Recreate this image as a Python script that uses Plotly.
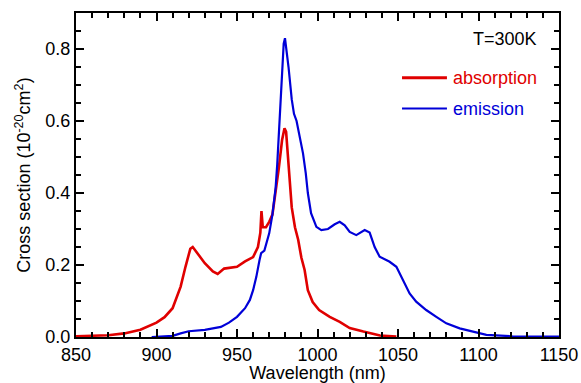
import plotly.graph_objects as go

abs_wl = [850, 860, 870, 880, 890, 900, 905, 910, 915, 918, 921, 922.5, 925, 930, 935, 938, 942, 946, 950, 955, 960, 963,
          964.5, 965.2, 966, 968, 970, 972, 974, 976, 978, 979.5, 980.5, 981.5, 982.5, 984, 986, 988, 990, 992, 994,
          997, 1001, 1007.6, 1013.8, 1020, 1028.5, 1038.8, 1049]
abs_val = [0.002, 0.003, 0.005, 0.01, 0.02, 0.04, 0.055, 0.08, 0.14, 0.195, 0.245, 0.25, 0.235, 0.205, 0.182, 0.175, 0.19, 0.192, 0.195, 0.21, 0.222, 0.25,
           0.29, 0.35, 0.305, 0.305, 0.32, 0.34, 0.4, 0.47, 0.547, 0.58, 0.57, 0.51, 0.43, 0.36, 0.305, 0.27, 0.22, 0.186, 0.13,
           0.097, 0.075, 0.056, 0.042, 0.025, 0.015, 0.004, 0.001]

em_wl = [897, 905, 910, 915, 920, 930, 940, 945, 950, 955, 958, 960, 962, 964, 965, 967, 970, 972, 974, 975, 976, 977, 978,
         979, 979.8, 981, 982, 984, 985.4, 987, 989, 991, 992.7, 994, 996, 999.3, 1002.4, 1006.5, 1010.7, 1013.8, 1016.9,
         1020, 1024.1, 1029.3, 1032.4, 1035.5, 1038.6, 1044.8, 1049, 1053, 1057.2, 1061.3, 1067.5, 1073.8, 1080, 1088.3,
         1096.6, 1104.9, 1121, 1150]
em_val = [0.0, 0.001, 0.003, 0.01, 0.016, 0.02, 0.028, 0.04, 0.056, 0.08, 0.103, 0.13, 0.167, 0.214, 0.233, 0.24, 0.288, 0.34, 0.415, 0.48, 0.566, 0.66, 0.75,
          0.815, 0.83, 0.79, 0.75, 0.66, 0.62, 0.6, 0.556, 0.51, 0.455, 0.4, 0.344, 0.306, 0.297, 0.3, 0.313, 0.32, 0.31,
          0.292, 0.283, 0.297, 0.29, 0.25, 0.223, 0.209, 0.195, 0.158, 0.121, 0.098, 0.075, 0.056, 0.038, 0.024,
          0.014, 0.006, 0.002, 0.001]

x_range = [850, 1150]
y_range = [0, 0.9]
x_major = [850, 900, 950, 1000, 1050, 1100, 1150]
y_major = [0.0, 0.2, 0.4, 0.6, 0.8]

RED = "#e00000"
BLUE = "#0000d8"
INK = "#000000"
FONT = "Liberation Sans"

fig = go.Figure()
fig.add_trace(go.Scatter(x=abs_wl, y=abs_val, mode="lines", name="absorption",
                         line=dict(color=RED, width=2.6), showlegend=False))
fig.add_trace(go.Scatter(x=em_wl, y=em_val, mode="lines", name="emission",
                         line=dict(color=BLUE, width=2.2), showlegend=False))

tickfont = dict(family=FONT, size=18, color=INK)

fig.update_layout(
    width=581, height=383, margin=dict(l=76, r=22, t=13, b=46),
    plot_bgcolor="#ffffff", paper_bgcolor="#ffffff",
    font=dict(family=FONT, size=18, color=INK),
    xaxis=dict(range=x_range, tickvals=x_major, ticktext=[str(v) for v in x_major],
               showline=True, linecolor=INK, linewidth=2, mirror="ticks",
               ticks="inside", ticklen=8, tickwidth=2, tickcolor=INK,
               minor=dict(dtick=10, tick0=850, ticks="inside", ticklen=5, tickwidth=2, tickcolor=INK),
               showgrid=False, zeroline=False, tickfont=tickfont, automargin=False,
               title=dict(text="Wavelength (nm)", font=tickfont, standoff=0)),
    yaxis=dict(range=y_range, tickvals=y_major, ticktext=["%.1f" % v for v in y_major],
               showline=True, linecolor=INK, linewidth=2, mirror="ticks",
               ticks="inside", ticklen=8, tickwidth=2, tickcolor=INK,
               minor=dict(dtick=0.05, tick0=0, ticks="inside", ticklen=5, tickwidth=2, tickcolor=INK),
               showgrid=False, zeroline=False, tickfont=tickfont, automargin=False,
               title=dict(text="Cross section (10<sup>-20</sup>cm<sup>2</sup>)", font=tickfont, standoff=10)),
)

# legend drawn inside the plot area
fig.add_annotation(x=0.958, y=0.92, xref="paper", yref="paper", text="T=300K", showarrow=False,
                   xanchor="right", yanchor="middle", font=dict(family=FONT, size=18, color=INK))
fig.add_shape(type="line", xref="paper", yref="paper", x0=0.675, x1=0.768, y0=0.8, y1=0.8,
              line=dict(color=RED, width=3))
fig.add_annotation(x=0.776, y=0.8, xref="paper", yref="paper", text="absorption", showarrow=False,
                   xanchor="left", yanchor="middle", font=dict(family=FONT, size=18, color=RED))
fig.add_shape(type="line", xref="paper", yref="paper", x0=0.675, x1=0.768, y0=0.705, y1=0.705,
              line=dict(color=BLUE, width=2))
fig.add_annotation(x=0.776, y=0.705, xref="paper", yref="paper", text="emission", showarrow=False,
                   xanchor="left", yanchor="middle", font=dict(family=FONT, size=18, color=BLUE))

fig.write_html("out.html", config={"displayModeBar": False},
               post_script="document.body.style.margin='0';")
